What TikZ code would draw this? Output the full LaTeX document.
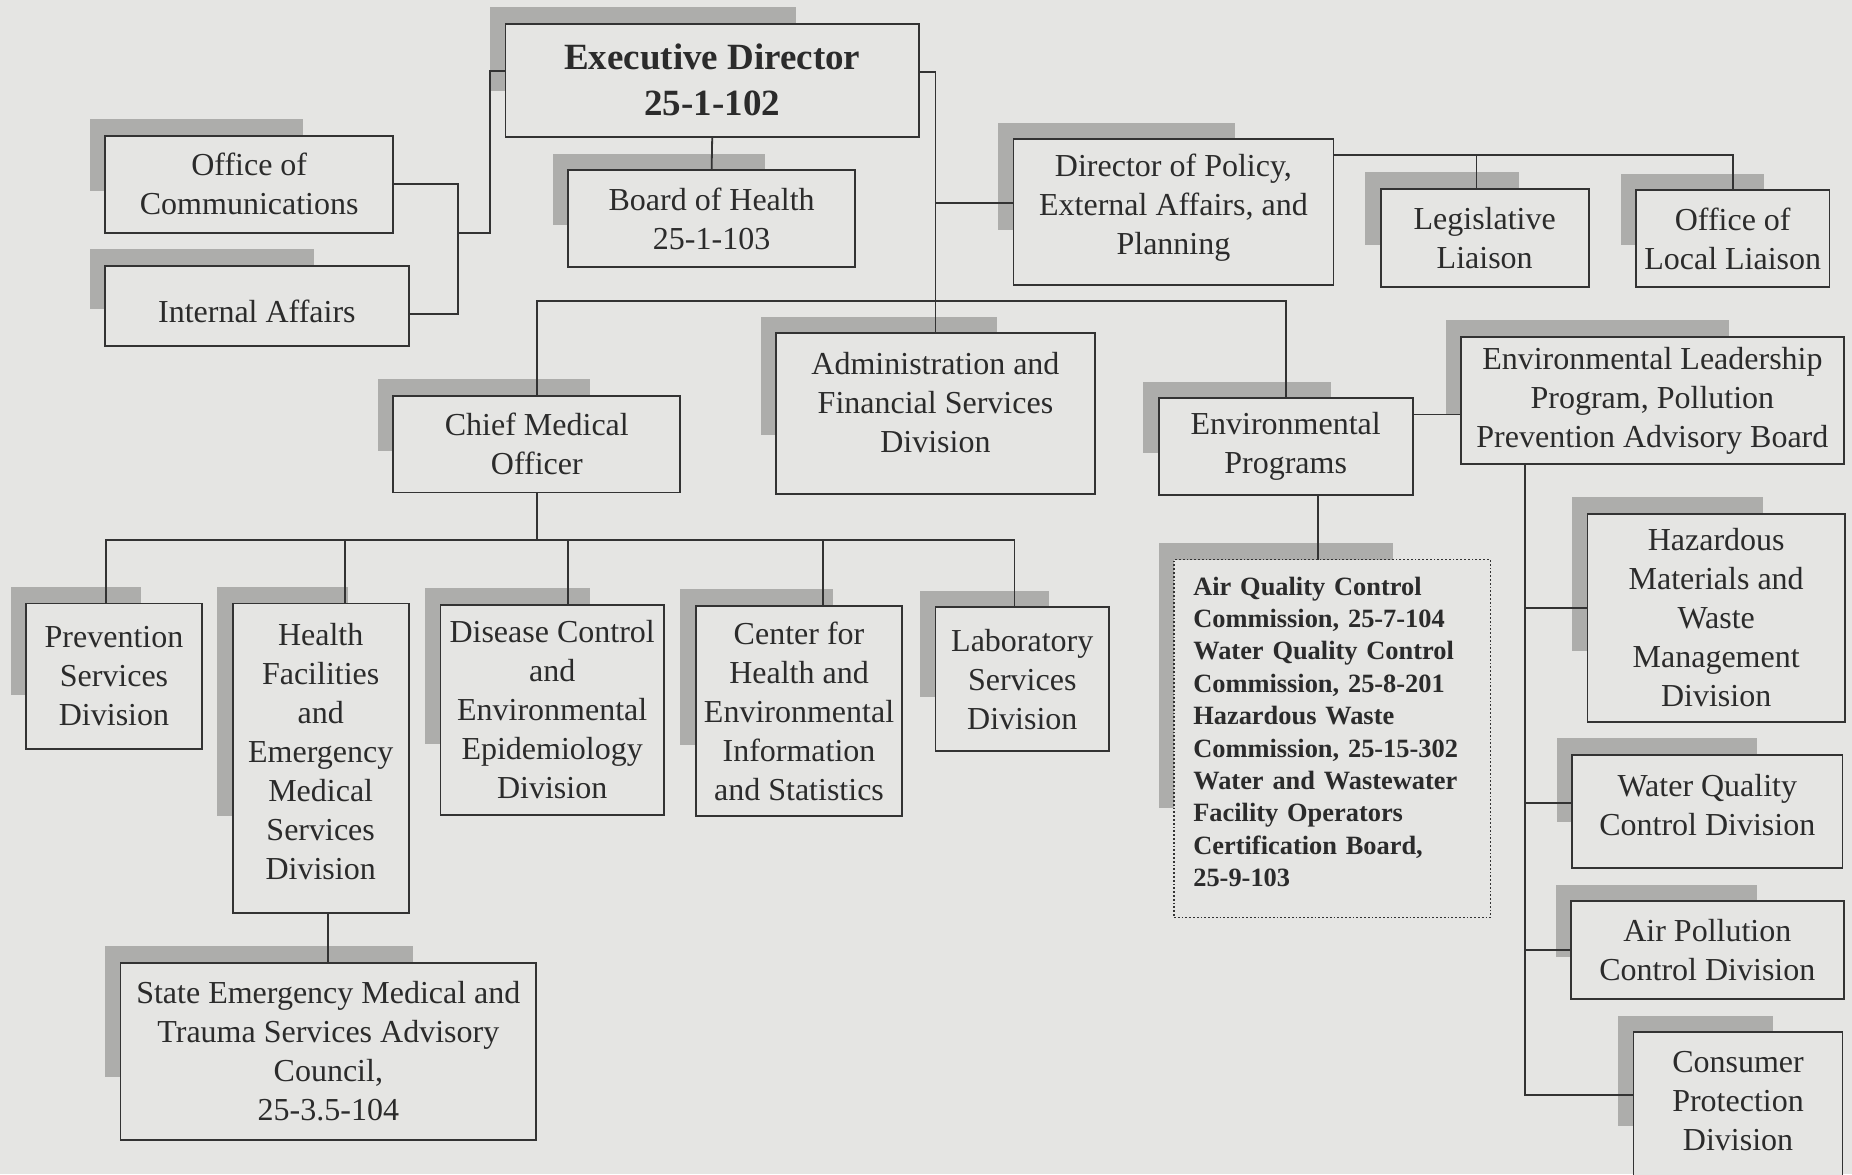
\documentclass[tikz,border=0pt]{standalone}
\usepackage{fontspec}
\setmainfont{Liberation Serif}
\definecolor{bgc}{HTML}{E5E5E3}
\definecolor{linec}{HTML}{333333}
\definecolor{shadowc}{HTML}{ADADAB}
\definecolor{textc}{HTML}{2B2B2B}
\tikzset{
  box/.style={draw=linec, line width=0.9pt, fill=bgc, inner sep=0pt, outer sep=0pt,
    anchor=center, align=center, text=textc, font=\fontsize{16}{19.5}\selectfont},
  conn/.style={draw=linec, line width=0.9pt},
  shadowfill/.style={fill=shadowc}
}
% #1 extra style, #2 name, #3 x1, #4 y1, #5 x2, #6 y2, #7 text
\newcommand\obox[7][]{%
  \pgfmathsetmacro\sxa{#3-13}%
  \pgfmathsetmacro\sya{#4-14}%
  \pgfmathsetmacro\sxb{#3-13+0.74*(#5-#3)}%
  \pgfmathsetmacro\syb{#4-14+0.74*(#6-#4)}%
  \pgfmathsetmacro\bw{(#5-#3)*0.5906}%
  \pgfmathsetmacro\bh{(#6-#4)*0.5906}%
  \pgfmathsetmacro\bx{(#3+#5)/2}%
  \pgfmathsetmacro\by{(#4+#6)/2}%
  \fill[shadowfill] (\sxa,\sya) rectangle (\sxb,\syb);
  \node[box, minimum width=\bw pt, minimum height=\bh pt, #1] (#2) at (\bx,\by) {#7};
}
\begin{document}
\begin{tikzpicture}[x=0.5906pt, y=-0.5906pt]
\path[use as bounding box] (0,0) rectangle (1568,994);
\clip (0,0) rectangle (1568,994);
\fill[bgc] (0,0) rectangle (1568,994);

\obox[font=\fontsize{18.5}{23}\selectfont\bfseries]{exec}{428}{20}{778}{116}{Executive Director\\25-1-102}
\obox{comm}{89}{115}{333}{197}{Office of\\Communications}
\obox[text height=17pt]{ia}{89}{225}{346}{293}{Internal Affairs}
\obox{boh}{481}{144}{724}{226}{Board of Health\\25-1-103}
\obox[text depth=7.5pt]{dpol}{858}{118}{1129}{241}{Director of Policy,\\External Affairs, and\\Planning}
\obox{leg}{1169}{160}{1345}{243}{Legislative\\Liaison}
\obox{loc}{1385}{161}{1549}{243}{Office of\\Local Liaison}
\obox[text depth=10.6pt]{admin}{657}{282}{927}{418}{Administration and\\Financial Services\\Division}
\obox{cmo}{333}{335}{576}{417}{Chief Medical\\Officer}
\obox{envp}{981}{337}{1196}{419}{Environmental\\Programs}
\obox{elp}{1237}{285}{1561}{393}{Environmental Leadership\\Program, Pollution\\Prevention Advisory Board}
\obox{prev}{22}{511}{171}{634}{Prevention\\Services\\Division}
\obox[text depth=7pt]{hf}{197}{511}{346}{773}{Health\\Facilities\\and\\Emergency\\Medical\\Services\\Division}
\obox{dc}{373}{512}{562}{690}{Disease Control\\and\\Environmental\\Epidemiology\\Division}
\obox{cent}{589}{513}{764}{691}{Center for\\Health and\\Environmental\\Information\\and Statistics}
\obox{lab}{792}{514}{939}{636}{Laboratory\\Services\\Division}
\obox{sems}{102}{815}{454}{965}{State Emergency Medical and\\Trauma Services Advisory\\Council,\\25-3.5-104}
\obox[densely dotted, line width=0.6pt, align=left, text width=139pt, text depth=152.8pt,
  font=\fontsize{13.2}{16.2}\selectfont\bfseries]{comms}{994}{474}{1262}{777}{Air Quality Control\\Commission, 25-7-104\\Water Quality Control\\Commission, 25-8-201\\Hazardous Waste\\Commission, 25-15-302\\Water and Wastewater\\Facility Operators\\Certification Board,\\25-9-103}
\obox{hm}{1344}{435}{1562}{611}{Hazardous\\Materials and\\Waste\\Management\\Division}
\obox[text depth=6.5pt]{wq}{1331}{639}{1560}{735}{Water Quality\\Control Division}
\obox{ap}{1330}{763}{1561}{846}{Air Pollution\\Control Division}
\obox[text depth=6pt]{cp}{1383}{874}{1560}{1000}{Consumer\\Protection\\Division}

% executive director, right side
\coordinate (tr) at (792,61);
\coordinate (td) at (792,172);
\coordinate (hb) at (792,255);
\draw[conn] (exec.east |- tr) -- (tr) -- (tr |- admin.north);
\draw[conn] (td) -- (td -| dpol.west);
\draw[conn] (cmo.north) -- (cmo.north |- hb) -- (envp.north |- hb) -- (envp.north);
% executive director, left side
\coordinate (l1) at (415,60);
\coordinate (l2) at (415,197);
\coordinate (l3) at (388,197);
\coordinate (lc) at (388,156);
\coordinate (li) at (388,266);
\draw[conn] (exec.west |- l1) -- (l1) -- (l2) -- (l3);
\draw[conn] (comm.east |- lc) -- (lc) -- (li) -- (ia.east |- li);
\draw[conn] (exec.south) -- (boh.north);
% director of policy
\coordinate (dp) at (1250,131);
\draw[conn] (dpol.east |- dp) -- (loc.north |- dp) -- (loc.north);
\draw[conn] (dp) -- (dp |- leg.north);
% chief medical officer
\coordinate (c0) at (455,457);
\coordinate (c1) at (90,457);
\coordinate (c2) at (292,457);
\coordinate (c3) at (481,457);
\coordinate (c4) at (697,457);
\coordinate (c5) at (859,457);
\draw[conn] (cmo.south) -- (cmo.south |- c0);
\draw[conn] (c1 |- prev.north) -- (c1) -- (c5) -- (c5 |- lab.north);
\draw[conn] (c2) -- (c2 |- hf.north);
\draw[conn] (c3) -- (c3 |- dc.north);
\draw[conn] (c4) -- (c4 |- cent.north);
\coordinate (hs) at (278,0);
\draw[conn] (hf.south -| hs) -- (sems.north -| hs);
% environmental programs
\coordinate (ee) at (1196,351);
\draw[conn] (envp.east |- ee) -- (elp.west |- ee);
\coordinate (ec) at (1116,0);
\draw[conn] (envp.south -| ec) -- (comms.north -| ec);
\coordinate (r1) at (1291,515);
\coordinate (r2) at (1291,680);
\coordinate (r3) at (1291,804);
\coordinate (r4) at (1291,927);
\draw[conn] (elp.south -| r1) -- (r4) -- (r4 -| cp.west);
\draw[conn] (r1) -- (r1 -| hm.west);
\draw[conn] (r2) -- (r2 -| wq.west);
\draw[conn] (r3) -- (r3 -| ap.west);
\end{tikzpicture}
\end{document}
